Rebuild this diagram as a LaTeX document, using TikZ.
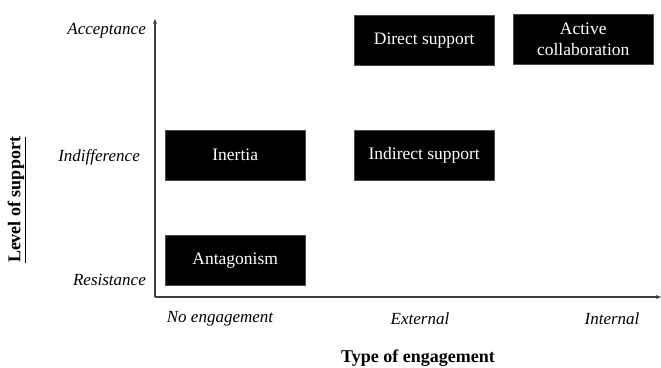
\documentclass[tikz,border=0pt]{standalone}
\usepackage{fontspec}
\setmainfont{Liberation Serif}
\usetikzlibrary{arrows.meta}
\begin{document}
\begin{tikzpicture}[x=1pt,y=1pt,
  blk/.style={fill=black,draw=black!70,text=white,minimum width=140pt,minimum height=50pt,inner sep=0pt,align=center,font=\fontsize{17.5}{21}\selectfont,anchor=north west},
  ax/.style={draw=black!75,line width=1.2pt,-{Stealth[length=5pt,width=4pt]}},
  lvl/.style={font=\fontsize{17}{18}\selectfont\itshape,inner sep=0pt},
  ttl/.style={font=\fontsize{18}{20}\selectfont\bfseries,inner sep=0pt}]
\useasboundingbox (0,0) rectangle (661,367);
\coordinate (o) at (155,70);
\coordinate (ytop) at (155,348);
\coordinate (xend) at (661,70);
\draw[ax] (o) -- (ytop);
\draw[ax] (o) -- (xend);
\node[blk] (ds) at (354,352) {Direct support};
\node[blk] (ac) at (513,353) {Active\\collaboration};
\node[blk] (in) at (165,237) {Inertia};
\node[blk] (is) at (354,237) {Indirect support};
\node[blk] (an) at (165,132) {Antagonism};
\node[lvl,anchor=east] (la) at (146,336) {Acceptance};
\node[lvl,anchor=east] (li) at (140,210) {Indifference};
\node[lvl,anchor=east] (lr) at (146,87) {Resistance};
\node[lvl] (xn) at (220,48) {No engagement};
\node[lvl] (xe) at (420,48) {External};
\node[lvl] (xi) at (612,48) {Internal};
\node[ttl,anchor=base] (tx) at (418,5) {Type of engagement};
\node[ttl,rotate=90] (ty) at (17,167) {\underline{Level of support}};
\end{tikzpicture}
\end{document}
